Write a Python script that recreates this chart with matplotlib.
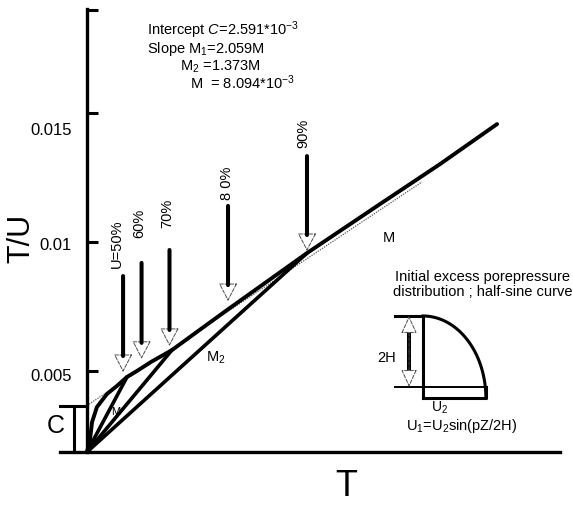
import numpy as np
import matplotlib.pyplot as plt

plt.rcParams['font.family'] = ['Liberation Sans', 'DejaVu Sans']
plt.rcParams['mathtext.fontset'] = 'custom'
plt.rcParams['mathtext.rm'] = 'Liberation Sans'
plt.rcParams['mathtext.it'] = 'Liberation Sans:italic'
plt.rcParams['mathtext.default'] = 'regular'

# T/U against T (schematic consolidation curve)
curve_T = [0.0, 0.14, 0.23, 0.45, 0.91, 1.36, 1.82, 2.27, 2.91, 3.86, 6.36, 10.0, 13.32, 16.05, 18.64]
curve_TU = [0.00186, 0.00236, 0.00302, 0.00360, 0.00411, 0.00442, 0.00477, 0.00500,
            0.00535, 0.00581, 0.00736, 0.00957, 0.01147, 0.01302, 0.01457]

# straight line of slope M and its intercept C
c_intercept = 0.00366
m_line_T = [0.0, 15.23]
m_line_TU = [c_intercept, 0.01233]

# lines from the origin (M1, through 70 %, M2)
origin_lines_T = [1.82, 3.86, 10.0]
origin_lines_TU = [0.00477, 0.00581, 0.00957]

# degree of consolidation arrows
arrow_labels = ['U=50%', '60%', '70%', '8 0%', '90%']
arrow_T = [1.64, 2.48, 3.75, 6.41, 10.0]
arrow_tip = [0.00496, 0.00547, 0.00597, 0.00771, 0.00965]
arrow_top = [0.00868, 0.00919, 0.00969, 0.01140, 0.01333]
label_T = [1.36, 2.36, 3.64, 6.36, 9.82]
label_bottom = [0.00903, 0.01019, 0.01058, 0.01167, 0.01368]

ytick_vals = [0.005, 0.01, 0.015]
ytick_labels = ['0.005', '0.01', '0.015']

fig = plt.figure(figsize=(5.73, 5.06), dpi=100)
ax = fig.add_axes([60 / 573, 53 / 506, 500 / 573, 443 / 506])
ax.set_xlim(-1.227, 21.5)
ax.set_ylim(curve_TU[0], 0.01903)

for s in ['top', 'right']:
    ax.spines[s].set_visible(False)
ax.spines['left'].set_position(('data', 0))
ax.spines['left'].set_linewidth(2.4)
ax.spines['bottom'].set_linewidth(2.4)
ax.set_xticks([])
ax.set_yticks(ytick_vals)
ax.set_yticks([0.0190], minor=True)
ax.tick_params(axis='y', which='both', direction='in', length=8, width=2.2, labelleft=False)

# tick labels drawn by hand: the 0.015 label sits below its tick in the original
for v, lab, drop in zip(ytick_vals, ytick_labels, [3.5, 1.5, 12]):
    ax.annotate(lab, xy=(0, v), xytext=(-11, -drop), textcoords='offset points',
                ha='right', va='center', fontsize=12)

# C bracket
ax.plot([-1.227, 0], [c_intercept, c_intercept], color='k', lw=2.2, clip_on=False)
ax.plot([-0.59, -0.59], [curve_TU[0], c_intercept], color='k', lw=2.2)
ax.text(-0.008, 0.061, 'C', transform=ax.transAxes, fontsize=18, ha='center', va='center')

# curves
ax.plot(m_line_T, m_line_TU, color='0.35', lw=0.9, ls=(0, (1, 1)))
ax.plot(curve_T, curve_TU, color='k', lw=2.8, solid_joinstyle='round', solid_capstyle='round')
for te, ye in zip(origin_lines_T, origin_lines_TU):
    ax.plot([0, te], [curve_TU[0], ye], color='k', lw=2.6, solid_capstyle='round')

# arrows with open heads
for t, tip, top in zip(arrow_T, arrow_tip, arrow_top):
    ax.annotate('', xy=(t, tip), xytext=(t, top),
                arrowprops=dict(arrowstyle='-|>,head_length=11.5,head_width=6', mutation_scale=1,
                                lw=0.7, ls='--', ec='0.3', fc='white', shrinkA=0, shrinkB=0))
    ax.annotate('', xy=(t, tip), xytext=(t, top),
                arrowprops=dict(arrowstyle='-', lw=2.9, color='k', shrinkA=0, shrinkB=11.5))
for t, yb, lab in zip(label_T, label_bottom, arrow_labels):
    ax.text(t, yb, lab, rotation=90, ha='center', va='bottom', fontsize=10.5)

# line labels
ax.text(0.658, 0.485, 'M', transform=ax.transAxes, fontsize=10.5, ha='center', va='center')
ax.text(0.312, 0.2144, 'M$_2$', transform=ax.transAxes, fontsize=10.5, ha='center', va='center')
ax.text(0.112, 0.0926, 'M', transform=ax.transAxes, fontsize=8, ha='center', va='center')

# header text
ax.text(0.174, 0.9436, r'Intercept $\mathit{C}$=$\mathit{2.591}$*$\mathit{10^{-3}}$',
        transform=ax.transAxes, fontsize=10.5, va='baseline')
ax.text(0.174, 0.9040, 'Slope M$_1$=2.059M', transform=ax.transAxes, fontsize=10.5, va='baseline')
ax.text(0.240, 0.8630, 'M$_2$ =1.373M', transform=ax.transAxes, fontsize=10.5, va='baseline')
ax.text(0.260, 0.8220, 'M  = 8.094*10$^{-3}$', transform=ax.transAxes, fontsize=10.5, va='baseline')

fig.text(21 / 573, 1 - 238 / 506, 'T/U', rotation=90, fontsize=22, ha='center', va='center')
fig.text(346 / 573, 1 - 487 / 506, 'T', fontsize=26, ha='center', va='center')

# inset: half-sine initial excess porepressure
ins = fig.add_axes([375 / 573, 66 / 506, 198 / 573, 175 / 506])
ins.set_xlim(0, 1)
ins.set_ylim(0, 1)
ins.axis('off')
ins.text(0.545, 0.889, 'Initial excess porepressure\ndistribution ; half-sine curve',
         ha='center', va='center', fontsize=10.5, linespacing=1.15)
ins.plot([0.101, 0.242], [0.703, 0.703], color='k', lw=2.2)
ins.plot([0.242, 0.242], [0.703, 0.234], color='k', lw=2.2)
theta = np.linspace(0, np.pi / 2, 60)
ins.plot(0.242 + 0.318 * np.sin(theta), 0.234 + 0.469 * np.cos(theta), color='k', lw=2.2)
ins.plot([0.101, 0.56], [0.297, 0.297], color='k', lw=1.4)
ins.plot([0.242, 0.56, 0.56], [0.234, 0.234, 0.297], color='k', lw=2.2)
for yend in [0.703, 0.297]:
    ins.annotate('', xy=(0.172, yend), xytext=(0.172, 0.5),
                 arrowprops=dict(arrowstyle='-|>,head_length=11,head_width=5', mutation_scale=1,
                                 lw=0.7, ls='--', ec='0.3', fc='white', shrinkA=0, shrinkB=0))
ins.plot([0.172, 0.172], [0.389, 0.611], color='k', lw=2.9)
ins.text(0.061, 0.469, '2H', ha='center', va='center', fontsize=10.5)
ins.text(0.328, 0.183, 'U$_2$', ha='center', va='center', fontsize=10)
ins.text(0.439, 0.08, 'U$_1$=U$_2$sin(pZ/2H)', ha='center', va='center', fontsize=10.5)

fig.savefig('out.png', dpi=100)
